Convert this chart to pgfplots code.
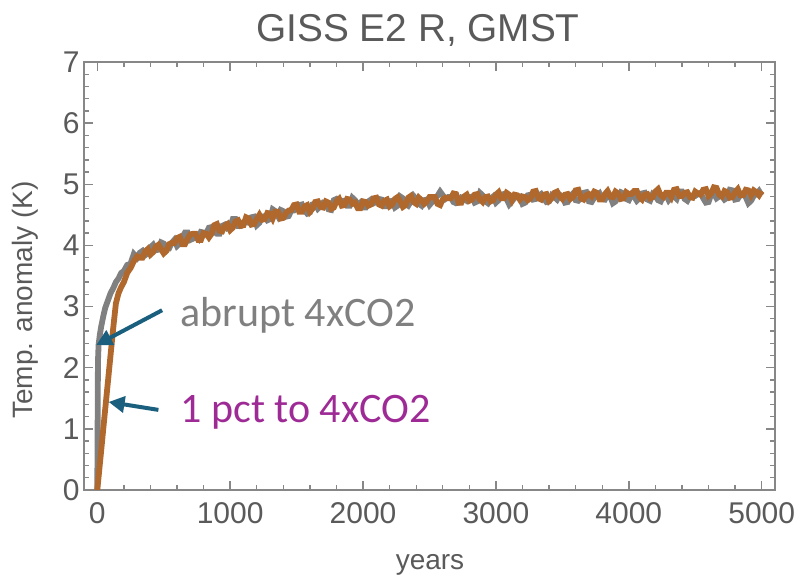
\documentclass[border=0pt]{standalone}
\usepackage{fontspec}
\setmainfont{Liberation Sans}
\newfontfamily\calibri{Carlito}
\usepackage{pgfplots}
\pgfplotsset{compat=1.18}
\usepackage{pgfplotstable}
\usetikzlibrary{arrows.meta}

\definecolor{framegray}{RGB}{135,135,135}
\definecolor{labelgray}{RGB}{90,90,90}
\definecolor{seriesgray}{RGB}{128,128,128}
\definecolor{seriesorange}{RGB}{176,104,44}
\definecolor{arrowblue}{RGB}{27,95,126}
\definecolor{textpurple}{RGB}{158,42,150}

% Global mean surface temperature anomaly (K): abrupt 4xCO2 and 1 pct/yr to 4xCO2
\pgfplotstableread{
t     abrupt  pct
0     0.00    0.00
5     2.10    0.11
10    2.38    0.22
20    2.55    0.44
30    2.68    0.66
45    2.84    1.00
60    2.98    1.33
80    3.10    1.77
100   3.22    2.21
120   3.30    2.65
140   3.40    3.05
160   3.46    3.22
180   3.55    3.32
200   3.58    3.40
225   3.68    3.55
250   3.70    3.63
275   3.86    3.74
300   3.80    3.82
320   3.88    3.80
340   3.91    3.80
360   3.84    3.90
380   3.87    3.94
400   3.97    3.85
420   4.01    3.89
440   3.92    3.98
460   3.93    4.01
480   4.05    3.94
500   4.03    3.87
520   3.95    3.91
540   3.95    4.02
560   4.04    4.04
580   4.09    4.04
600   3.99    4.12
620   4.03    4.14
640   4.13    4.02
660   4.21    4.02
680   4.21    4.11
700   4.09    4.18
720   4.11    4.19
740   4.13    4.19
760   4.10    4.09
780   4.22    4.09
800   4.21    4.20
820   4.20    4.19
840   4.29    4.13
860   4.30    4.19
880   4.23    4.33
900   4.19    4.35
920   4.19    4.24
940   4.32    4.23
960   4.34    4.32
980   4.28    4.35
1000  4.30    4.25
1020  4.43    4.29
1040  4.43    4.39
1060  4.32    4.41
1080  4.32    4.32
1100  4.38    4.33
1120  4.38    4.46
1140  4.37    4.44
1160  4.46    4.34
1180  4.47    4.35
1200  4.33    4.43
1220  4.37    4.50
1240  4.47    4.42
1260  4.48    4.43
1280  4.41    4.53
1300  4.43    4.52
1320  4.59    4.44
1340  4.56    4.55
1360  4.48    4.55
1380  4.58    4.44
1400  4.56    4.45
1420  4.47    4.53
1440  4.48    4.57
1460  4.57    4.58
1480  4.57    4.66
1500  4.60    4.67
1520  4.66    4.55
1540  4.67    4.55
1560  4.57    4.64
1580  4.52    4.66
1600  4.54    4.55
1620  4.67    4.60
1640  4.68    4.71
1660  4.60    4.72
1680  4.64    4.63
1700  4.70    4.62
1720  4.69    4.72
1740  4.59    4.70
1760  4.58    4.60
1780  4.74    4.62
1800  4.76    4.72
1820  4.72    4.76
1840  4.73    4.65
1860  4.73    4.66
1880  4.65    4.76
1900  4.65    4.75
1920  4.78    4.68
1940  4.74    4.70
1960  4.66    4.61
1980  4.70    4.61
2000  4.62    4.72
2020  4.62    4.71
2040  4.72    4.65
2060  4.75    4.67
2080  4.69    4.77
2100  4.71    4.78
2120  4.76    4.67
2140  4.75    4.65
2160  4.64    4.73
2180  4.64    4.75
2200  4.72    4.64
2220  4.73    4.67
2240  4.62    4.76
2260  4.65    4.79
2280  4.80    4.72
2300  4.77    4.63
2320  4.68    4.66
2340  4.65    4.78
2360  4.72    4.81
2380  4.81    4.71
2400  4.76    4.68
2420  4.68    4.78
2440  4.65    4.74
2460  4.74    4.68
2480  4.75    4.72
2500  4.66    4.79
2520  4.71    4.79
2540  4.78    4.79
2560  4.81    4.68
2580  4.88    4.66
2600  4.82    4.75
2620  4.76    4.78
2640  4.79    4.77
2660  4.79    4.77
2680  4.71    4.85
2700  4.69    4.84
2720  4.70    4.70
2740  4.78    4.70
2760  4.76    4.80
2780  4.73    4.83
2800  4.78    4.73
2820  4.80    4.75
2840  4.70    4.83
2860  4.72    4.84
2880  4.86    4.75
2900  4.82    4.71
2920  4.72    4.79
2940  4.69    4.80
2960  4.76    4.72
2980  4.80    4.74
3000  4.70    4.83
3020  4.74    4.87
3040  4.83    4.77
3060  4.84    4.77
3080  4.76    4.86
3100  4.67    4.83
3120  4.72    4.74
3140  4.78    4.83
3160  4.79    4.82
3180  4.80    4.75
3200  4.68    4.80
3220  4.70    4.79
3240  4.82    4.74
3260  4.83    4.77
3280  4.75    4.88
3300  4.76    4.89
3320  4.81    4.77
3340  4.84    4.75
3360  4.77    4.83
3380  4.71    4.84
3400  4.72    4.73
3420  4.82    4.77
3440  4.79    4.86
3460  4.75    4.88
3480  4.83    4.80
3500  4.80    4.76
3520  4.70    4.83
3540  4.71    4.84
3560  4.81    4.76
3580  4.85    4.79
3600  4.74    4.90
3620  4.73    4.91
3640  4.77    4.77
3660  4.86    4.75
3680  4.87    4.82
3700  4.72    4.84
3720  4.71    4.80
3740  4.78    4.88
3760  4.81    4.86
3780  4.85    4.75
3800  4.76    4.75
3820  4.75    4.84
3840  4.83    4.89
3860  4.80    4.80
3880  4.69    4.79
3900  4.72    4.88
3920  4.79    4.85
3940  4.87    4.76
3960  4.85    4.77
3980  4.76    4.87
4000  4.74    4.84
4020  4.83    4.84
4040  4.80    4.89
4060  4.73    4.89
4080  4.77    4.79
4100  4.85    4.75
4120  4.86    4.83
4140  4.75    4.84
4160  4.73    4.77
4180  4.84    4.79
4200  4.81    4.88
4220  4.74    4.92
4240  4.72    4.82
4260  4.82    4.79
4280  4.83    4.86
4300  4.74    4.86
4320  4.79    4.79
4340  4.80    4.91
4360  4.76    4.92
4380  4.88    4.81
4400  4.88    4.81
4420  4.76    4.86
4440  4.73    4.87
4460  4.81    4.79
4480  4.81    4.78
4500  4.81    4.88
4520  4.84    4.85
4540  4.86    4.83
4560  4.77    4.91
4580  4.70    4.92
4600  4.71    4.81
4620  4.84    4.85
4640  4.85    4.95
4660  4.77    4.94
4680  4.80    4.83
4700  4.81    4.80
4720  4.75    4.89
4740  4.78    4.87
4760  4.91    4.78
4780  4.90    4.79
4800  4.75    4.87
4820  4.76    4.92
4840  4.83    4.82
4860  4.85    4.82
4880  4.79    4.91
4900  4.69    4.90
4920  4.73    4.82
4940  4.81    4.90
4960  4.84    4.87
4980  4.89    4.82
5000  4.82    4.89
}\gmst

\begin{document}
\begin{tikzpicture}
\begin{axis}[
  at={(0pt,0pt)}, anchor=south west,
  scale only axis, width=345.5pt, height=214pt,
  xmin=-100, xmax=5100, ymin=0, ymax=7,
  xtick={0,1000,...,5000}, ytick={0,1,...,7},
  minor x tick num=4, minor y tick num=4,
  tick align=inside,
  major tick length=4.5pt, minor tick length=2.3pt,
  axis line style={draw=framegray, line width=0.9pt},
  every tick/.style={draw=framegray, line width=0.7pt},
  ticklabel style={font=\fontsize{15}{17}\selectfont, text=labelgray},
  /pgf/number format/assume math mode=true,
  /pgf/number format/set thousands separator={},
  xticklabel style={yshift=-2.5pt},
  yticklabel style={inner sep=2pt},
]
\addplot[seriesgray, line width=2.9pt, line join=miter, miter limit=2.5] table[x=t, y=abrupt]{\gmst};
\addplot[seriesorange, line width=2.9pt, line join=miter, miter limit=2.5] table[x=t, y=pct]{\gmst};

% arrows pointing to each curve
\draw[arrowblue, line width=2pt, -{Triangle[length=8pt, width=8pt]}]
  (axis cs:488,2.94) -- (axis cs:-8,2.37);
\draw[arrowblue, line width=2pt, -{Triangle[length=8pt, width=8pt]}]
  (axis cs:460,1.31) -- (axis cs:85,1.44);

\node[anchor=base west, inner sep=0pt, text=seriesgray,
      font=\calibri\fontsize{21}{25}\selectfont]
  at (axis cs:623,2.67) {abrupt 4xCO2};
\node[anchor=base west, inner sep=0pt, text=textpurple,
      font=\calibri\fontsize{21}{25}\selectfont]
  at (axis cs:623,1.10) {1 pct to 4xCO2};
\end{axis}

% title and axis labels
\node[anchor=base, inner sep=0pt, text=labelgray, font=\fontsize{19.4}{23}\selectfont]
  at (167pt,224pt) {GISS E2 R, GMST};
\node[anchor=base, inner sep=0pt, text=labelgray, font=\fontsize{14}{16}\selectfont]
  at (173pt,-40pt) {years};
\node[rotate=90, inner sep=0pt, text=labelgray, font=\fontsize{14}{16}\selectfont]
  at (-29.5pt,95pt) {Temp. anomaly (K)};

\pgfresetboundingbox
\useasboundingbox (-42pt,-46pt) rectangle (358pt,245pt);
\end{tikzpicture}
\end{document}
